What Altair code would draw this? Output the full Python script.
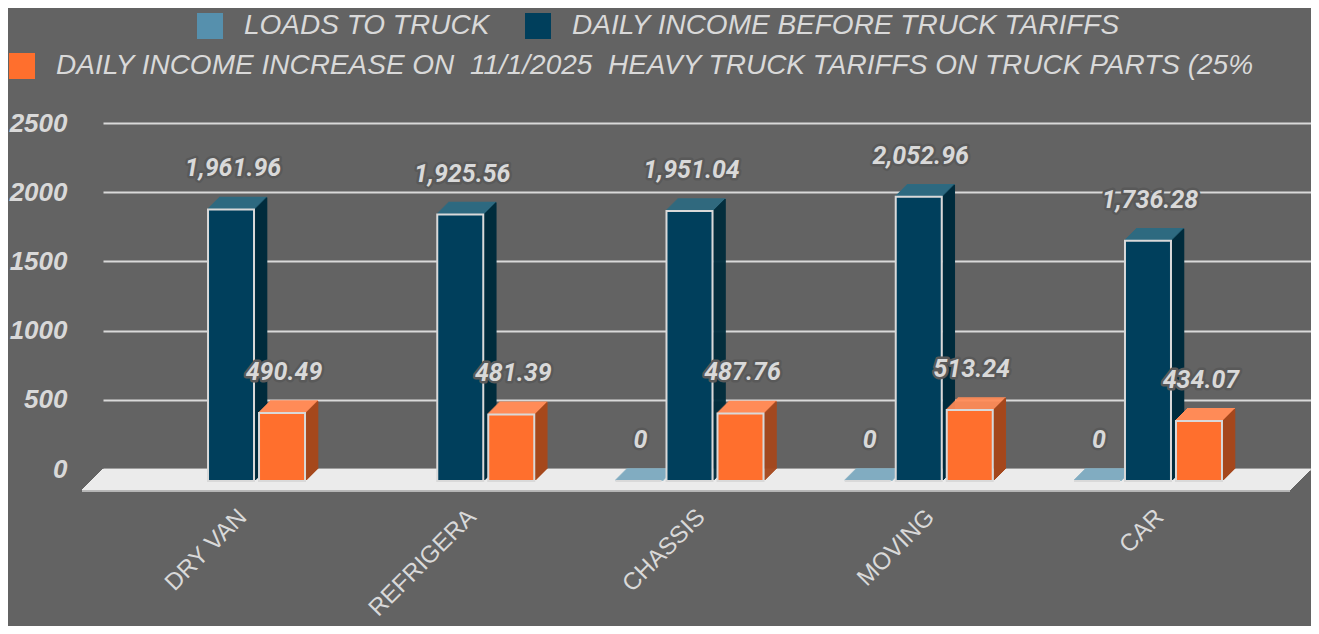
import altair as alt
import pandas as pd

categories = ["DRY VAN", "REFRIGERA", "CHASSIS", "MOVING", "CAR"]
loads_to_truck = [None, None, 0, 0, 0]
income_before = [1961.96, 1925.56, 1951.04, 2052.96, 1736.28]
income_increase = [490.49, 481.39, 487.76, 513.24, 434.07]
y_ticks = [0, 500, 1000, 1500, 2000, 2500]

name_loads = "LOADS TO TRUCK"
name_before = "DAILY INCOME BEFORE TRUCK TARIFFS"
name_increase = "DAILY INCOME INCREASE ON\u00a0 11/1/2025\u00a0 HEAVY TRUCK TARIFFS ON TRUCK PARTS (25%"

BG = "#636363"
TXT = "#d9d9d9"


def frame(vals, name, col):
    df = pd.DataFrame({"cat": categories, "value": vals})
    df[col] = name
    return df.dropna(subset=["value"]).reset_index(drop=True)


df_loads = frame(loads_to_truck, name_loads, "series")
df_before = frame(income_before, name_before, "series")
df_incr = frame(income_increase, name_increase, "series2")

W, H = 1208, 346

xscale = alt.Scale(domain=categories, paddingInner=0, paddingOuter=0.1348, align=0.411)
yscale = alt.Scale(domain=[0, 2500], nice=False)

xaxis = alt.Axis(title=None, labelAngle=-45, labelAlign="right", labelBaseline="middle",
                 labelFont="Liberation Sans", labelFontSize=24, labelColor=TXT,
                 labelPadding=44, domain=False, ticks=False, grid=False)
yaxis = alt.Axis(title=None, values=y_ticks, format="d", labelFont="Liberation Sans", labelFontSize=26,
                 labelFontWeight="bold", labelFontStyle="italic", labelColor=TXT,
                 labelPadding=36, labelBaseline="middle", domain=False, ticks=False, grid=True,
                 gridColor=TXT, gridWidth=2)

X = alt.X("cat:N", sort=categories, scale=xscale, axis=xaxis)
Y = alt.Y("value:Q", scale=yscale, axis=yaxis)
Y2 = alt.Y2Datum(0)

legend_common = dict(title=None, orient="none", direction="horizontal", symbolType="square",
                     symbolSize=676, symbolStrokeWidth=0, labelFont="Liberation Sans",
                     labelFontSize=28, labelFontStyle="italic", labelColor=TXT,
                     labelLimit=3000, labelOffset=20, columnPadding=34, padding=0)

fill_enc = alt.Fill("series:N",
                    scale=alt.Scale(domain=[name_loads, name_before], range=["#5690ad", "#003f5c"]),
                    legend=alt.Legend(legendX=93, legendY=-111, **legend_common))
color_enc = alt.Color("series2:N",
                      scale=alt.Scale(domain=[name_increase], range=["#ff6f2d"]),
                      legend=alt.Legend(legendX=-95, legendY=-71, **legend_common))

layers = []

# floor (decoration)
for i in range(1, 22):
    layers.append(alt.Chart(df_before).mark_rule(color="#ebebeb", strokeWidth=1.6, yOffset=i).encode(
        x=alt.value(-i), x2=alt.value(W - i), y=alt.YDatum(0, type="quantitative", scale=yscale, axis=yaxis)))
layers.append(alt.Chart(df_before).mark_rule(color="#b8b8b8", strokeWidth=1.5, yOffset=21.8).encode(
    x=alt.value(-21), x2=alt.value(W - 21), y=alt.YDatum(0, type="quantitative", scale=yscale, axis=yaxis)))


def box_layers(df, k, top, side, enc):
    out = []
    base = k * 51 - 12
    for i in range(1, 13):
        out.append(alt.Chart(df).mark_tick(orient="horizontal", size=48, thickness=1.6, color=top,
                                           opacity=1, xOffset=base + i, yOffset=12 - i).encode(x=X, y=Y))
    for i in range(1, 13):
        out.append(alt.Chart(df).mark_rule(color=side, strokeWidth=1.6, xOffset=base + 23.5 + i,
                                           yOffset=12 - i, y2Offset=12 - i).encode(x=X, y=Y, y2=Y2))
    out.append(alt.Chart(df).mark_bar(width=46, stroke=TXT, strokeWidth=2, xOffset=base,
                                      yOffset=12, y2Offset=12, opacity=1).encode(x=X, y=Y, y2=Y2, **enc))
    return out


layers += box_layers(df_loads, -1, "#7aa8be", "#3d6b82", {"fill": fill_enc})
layers += box_layers(df_before, 0, "#2e6a80", "#002c3d", {"fill": fill_enc})
layers += box_layers(df_incr, 1, "#ff8b57", "#a5481d", {"color": color_enc})


def label_layers(df, k, fmt):
    dx = k * 51 - 12 + 2
    common = dict(font="Roboto", fontSize=25, fontStyle="italic", fontWeight="bold",
                  baseline="alphabetic", align="center", dy=-21, xOffset=dx)
    halo = alt.Chart(df).mark_text(fill="#595959", stroke="#595959", strokeWidth=5,
                                   strokeJoin="round", **common).encode(
        x=X, y=Y, text=alt.Text("value:Q", format=fmt))
    txt = alt.Chart(df).mark_text(fill=TXT, **common).encode(
        x=X, y=Y, text=alt.Text("value:Q", format=fmt))
    return [halo, txt]


layers += label_layers(df_loads, -1, ",.0f")
layers += label_layers(df_before, 0, ",.2f")
layers += label_layers(df_incr, 1, ",.2f")

chart = alt.layer(*layers).properties(
    width=W, height=H,
    background=BG,
    padding={"left": 95, "top": 115, "right": 0, "bottom": 157},
    autosize=alt.AutoSizeParams(type="none"),
).configure(font="Liberation Sans").configure_view(stroke=None)

chart.save("out.html", embed_options={"renderer": "svg", "actions": False})
